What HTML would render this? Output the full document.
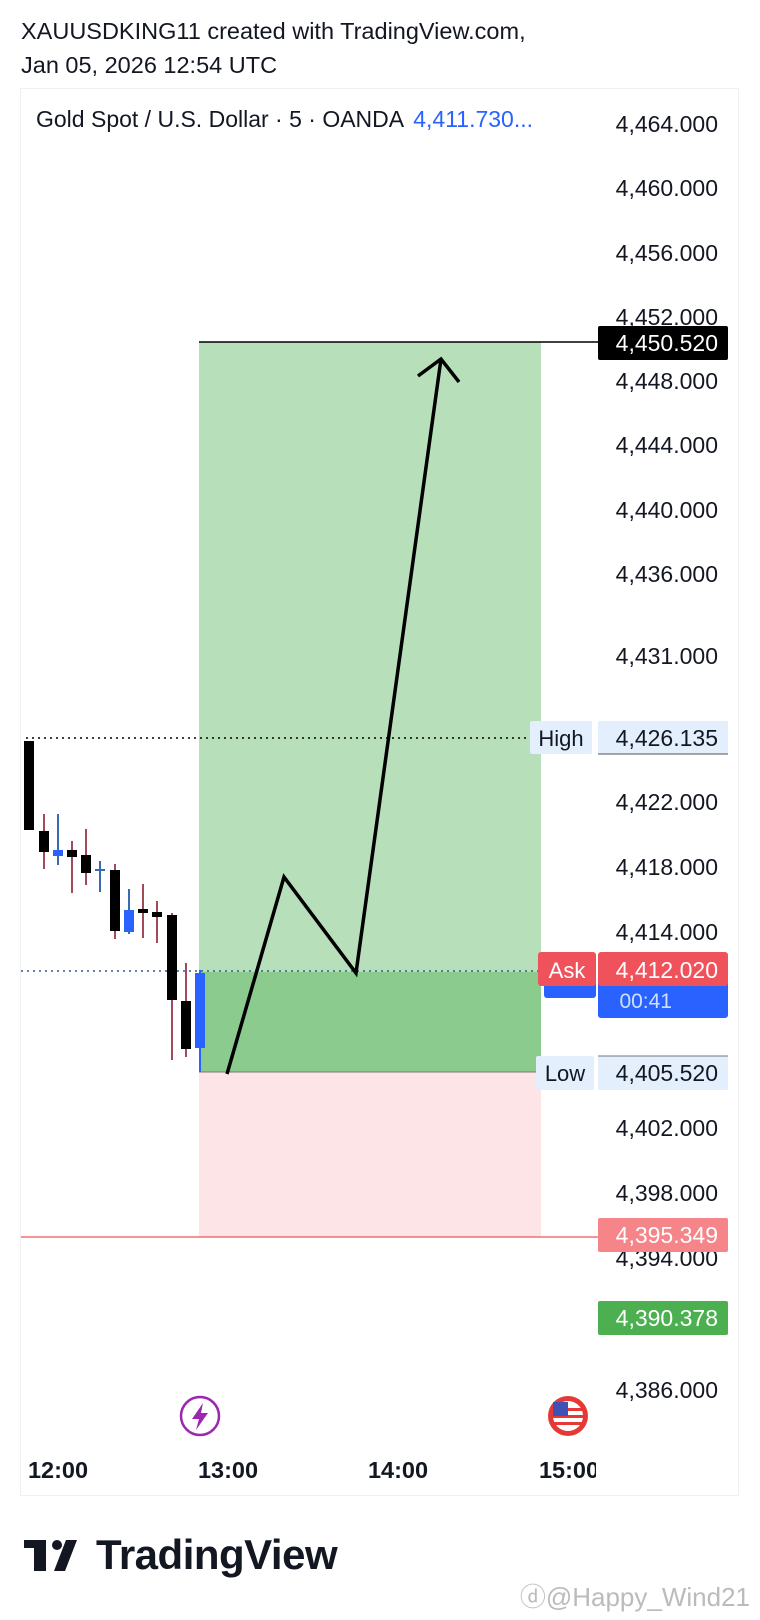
<!DOCTYPE html>
<html><head><meta charset="utf-8"><style>
html,body{margin:0;padding:0;background:#fff;width:760px;height:1620px;overflow:hidden}
svg{display:block}
text{font-family:"Liberation Sans",Arial,sans-serif}
</style></head><body>
<svg width="760" height="1620" viewBox="0 0 760 1620" xmlns="http://www.w3.org/2000/svg">
<text x="21" y="39" font-size="23.5" fill="#131722">XAUUSDKING11 created with TradingView.com,</text>
<text x="21" y="73" font-size="23.5" fill="#131722">Jan 05, 2026 12:54 UTC</text>
<rect x="20.5" y="88.5" width="718" height="1407" fill="#fff" stroke="#eef0f3"/>
<rect x="199" y="342" width="342" height="630" fill="#b7dfb9"/>
<rect x="199" y="972" width="342" height="100" fill="#8ccb8e"/>
<rect x="199" y="1072" width="342" height="165" fill="#fde5e7"/>
<line x1="199" y1="1072" x2="541" y2="1072" stroke="#777" stroke-width="1"/>
<line x1="199" y1="342" x2="598" y2="342" stroke="#000" stroke-width="1.5"/>
<line x1="21" y1="1237" x2="598" y2="1237" stroke="#f07070" stroke-width="1.5"/>
<line x1="26" y1="738" x2="530" y2="738" stroke="#000" stroke-width="1.5" stroke-dasharray="2,4"/>
<line x1="21" y1="971" x2="540" y2="971" stroke="#2c5a8c" stroke-width="1.5" stroke-dasharray="2,4"/>
<g stroke-width="2">
<line x1="44" y1="814" x2="44" y2="869" stroke="#a34a5a"/>
<line x1="58" y1="814" x2="58" y2="865" stroke="#3a6ab0"/>
<line x1="72" y1="841" x2="72" y2="893" stroke="#a34a5a"/>
<line x1="86" y1="829" x2="86" y2="885" stroke="#a34a5a"/>
<line x1="100" y1="861" x2="100" y2="892" stroke="#3a6ab0"/>
<line x1="115" y1="864" x2="115" y2="939" stroke="#a34a5a"/>
<line x1="129" y1="889" x2="129" y2="934" stroke="#3a6ab0"/>
<line x1="143" y1="884" x2="143" y2="938" stroke="#a34a5a"/>
<line x1="157" y1="901" x2="157" y2="943" stroke="#a34a5a"/>
<line x1="172" y1="913" x2="172" y2="1060" stroke="#a34a5a"/>
<line x1="186" y1="963" x2="186" y2="1057" stroke="#a34a5a"/>
<line x1="200" y1="970" x2="200" y2="1072" stroke="#2962ff"/>
</g>
<rect x="24" y="741" width="10" height="89" fill="#000"/>
<rect x="39" y="831" width="10" height="21" fill="#000"/>
<rect x="53" y="850" width="10" height="6" fill="#2962ff"/>
<rect x="67" y="850" width="10" height="7" fill="#000"/>
<rect x="81" y="855" width="10" height="18" fill="#000"/>
<rect x="95" y="869" width="10" height="2" fill="#3a6ab0"/>
<rect x="110" y="870" width="10" height="61" fill="#000"/>
<rect x="124" y="910" width="10" height="22" fill="#2962ff"/>
<rect x="138" y="909" width="10" height="4" fill="#000"/>
<rect x="152" y="912" width="10" height="5" fill="#000"/>
<rect x="167" y="915" width="10" height="85" fill="#000"/>
<rect x="181" y="1001" width="10" height="48" fill="#000"/>
<rect x="195" y="973" width="10" height="75" fill="#2962ff"/>
<polyline points="227,1074 284,877 356,973 441,359" fill="none" stroke="#000" stroke-width="3.5"/>
<polyline points="418,376 441,359 459,382" fill="none" stroke="#000" stroke-width="3.5"/>
<g font-size="23" fill="#131722" text-anchor="end">
<text x="718" y="132">4,464.000</text>
<text x="718" y="196">4,460.000</text>
<text x="718" y="261">4,456.000</text>
<text x="718" y="325">4,452.000</text>
<text x="718" y="389">4,448.000</text>
<text x="718" y="453">4,444.000</text>
<text x="718" y="518">4,440.000</text>
<text x="718" y="582">4,436.000</text>
<text x="718" y="664">4,431.000</text>
<text x="718" y="810">4,422.000</text>
<text x="718" y="875">4,418.000</text>
<text x="718" y="940">4,414.000</text>
<text x="718" y="1136">4,402.000</text>
<text x="718" y="1201">4,398.000</text>
<text x="718" y="1266">4,394.000</text>
<text x="718" y="1398">4,386.000</text>
</g>
<rect x="598" y="326" width="130" height="34" rx="2" fill="#000"/>
<text x="718" y="351" font-size="23" fill="#fff" text-anchor="end">4,450.520</text>
<rect x="530" y="721" width="62" height="33" rx="2" fill="#e3effd"/>
<text x="561" y="746" font-size="22" fill="#131722" text-anchor="middle">High</text>
<rect x="598" y="721" width="130" height="33" rx="2" fill="#e3effd"/>
<line x1="598" y1="754" x2="728" y2="754" stroke="#555"/>
<text x="718" y="746" font-size="23" fill="#131722" text-anchor="end">4,426.135</text>
<rect x="544" y="960" width="52" height="38" rx="3" fill="#2962ff"/>
<rect x="598" y="960" width="130" height="58" rx="3" fill="#2962ff"/>
<text x="672" y="1008" font-size="21" fill="#cfe0ff" text-anchor="end">00:41</text>
<rect x="538" y="952" width="58" height="34" rx="3" fill="#f0525c"/>
<text x="567" y="978" font-size="22" fill="#fff" text-anchor="middle">Ask</text>
<rect x="598" y="952" width="130" height="34" rx="3" fill="#f0525c"/>
<text x="718" y="978" font-size="23" fill="#fff" text-anchor="end">4,412.020</text>
<rect x="536" y="1056" width="58" height="34" rx="2" fill="#e3effd"/>
<text x="565" y="1081" font-size="22" fill="#131722" text-anchor="middle">Low</text>
<rect x="598" y="1056" width="130" height="34" rx="2" fill="#e3effd"/>
<line x1="598" y1="1056" x2="728" y2="1056" stroke="#777"/>
<text x="718" y="1081" font-size="23" fill="#131722" text-anchor="end">4,405.520</text>
<rect x="598" y="1218" width="130" height="34" rx="2" fill="#f58589"/>
<text x="718" y="1243" font-size="23" fill="#fff" text-anchor="end">4,395.349</text>
<rect x="598" y="1301" width="130" height="34" rx="2" fill="#4caf50"/>
<text x="718" y="1326" font-size="23" fill="#fff" text-anchor="end">4,390.378</text>
<text x="36" y="127" font-size="23" fill="#131722">Gold Spot / U.S. Dollar · 5 · OANDA <tspan fill="#2962ff" dx="4">4,411.730...</tspan></text>
<circle cx="200" cy="1416" r="19" fill="#fff" stroke="#9c27b0" stroke-width="2.5"/>
<polygon points="203,1403 192,1419 199,1419 196,1430 208,1413 201,1413" fill="#9c27b0"/>
<circle cx="568" cy="1416" r="20" fill="#e53935"/>
<circle cx="568" cy="1416" r="15" fill="#fff"/>
<rect x="553" y="1408" width="30" height="3" fill="#e53935"/>
<rect x="553" y="1415" width="30" height="3" fill="#e53935"/>
<rect x="553" y="1422" width="30" height="3" fill="#e53935"/>
<rect x="553" y="1402" width="15" height="14" fill="#3f51b5"/>
<g font-size="23.5" font-weight="bold" fill="#131722" text-anchor="middle">
<text x="58" y="1478">12:00</text>
<text x="228" y="1478">13:00</text>
<text x="398" y="1478">14:00</text>
</g>
<svg x="0" y="1450" width="596" height="40"><text x="569" y="28" font-size="23.5" font-weight="bold" fill="#131722" text-anchor="middle">15:00</text></svg>
<g fill="#131722">
<rect x="24" y="1540" width="22" height="8"/>
<rect x="34" y="1540" width="12" height="31"/>
<circle cx="57" cy="1545" r="5"/>
<polygon points="66,1540 77,1540 65,1571 54,1571"/>
</g>
<text x="96" y="1569" font-size="42" font-weight="bold" fill="#131722" letter-spacing="-0.5">TradingView</text>
<text x="750" y="1606" font-size="26" fill="#bbb" text-anchor="end">ⓓ@Happy_Wind21</text>
</svg>
</body></html>
